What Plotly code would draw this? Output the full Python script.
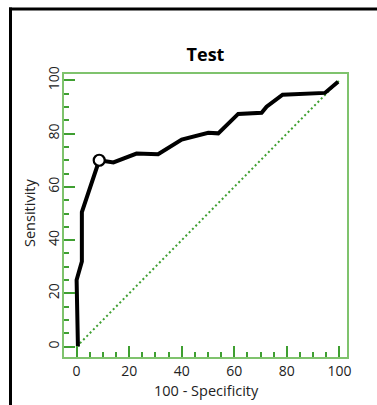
import plotly.graph_objects as go

# ROC curve data (100 - Specificity, Sensitivity)
fpr = [0.5, 0, 2, 2, 8.6, 14, 22.8, 31, 40, 50.1, 53.9, 61.5, 70.4, 72.3, 78.4, 94.5, 99.5]
tpr = [0, 25, 32, 50.5, 70, 69.2, 72.5, 72.3, 77.8, 80.3, 80.1, 87.4, 87.8, 90.1, 94.6, 95.3, 99.5]
cut_x = [8.6]
cut_y = [70]
diag = [0, 100]
tick_vals = [0, 20, 40, 60, 80, 100]
x_title = "100 - Specificity"
y_title = "Sensitivity"
chart_title = "Test"

FONT = "Open Sans"
GREEN = "#3f9f31"
LIGHT = "#7fc36d"

W, H = 377, 405
L, R, T, B = 64, 30, 74, 48
PW, PH = W - L - R, H - T - B

fig = go.Figure()
fig.add_trace(go.Scatter(x=diag, y=diag, mode="lines",
                         line=dict(color=GREEN, width=2, dash="2px,2.7px"),
                         hoverinfo="skip", showlegend=False))
fig.add_trace(go.Scatter(x=fpr, y=tpr, mode="lines",
                         line=dict(color="black", width=4),
                         showlegend=False))
fig.add_trace(go.Scatter(x=cut_x, y=cut_y, mode="markers",
                         marker=dict(size=11, color="white",
                                     line=dict(color="black", width=2.2)),
                         showlegend=False))

axis_common = dict(
    tickvals=tick_vals, ticks="inside", ticklen=11, tickwidth=2, tickcolor=GREEN,
    minor=dict(dtick=5, ticks="inside", ticklen=5, tickwidth=2, tickcolor=GREEN),
    showline=True, linecolor=LIGHT, linewidth=1.5, mirror=True,
    showgrid=False, zeroline=False,
    tickfont=dict(family=FONT, size=14, color="#222"),
)

fig.update_layout(
    width=W, height=H,
    margin=dict(l=L, r=R, t=T, b=B),
    paper_bgcolor="white", plot_bgcolor="white",
    title=dict(text="<b>" + chart_title + "</b>", x=0.5, xref="paper", xanchor="center",
               y=1 - 55 / H, yanchor="middle", yref="container",
               font=dict(family=FONT, size=18, color="black")),
    xaxis=dict(range=[-4.8, 102.9], **axis_common),
    yaxis=dict(range=[-3.9, 102.4], tickangle=-90, ticklabelstandoff=-2,
               **axis_common),
)

fig.add_annotation(text=x_title, xref="paper", yref="paper",
                   x=(206.7 - L) / PW, y=(PH + T - 390) / PH,
                   xanchor="center", yanchor="middle", showarrow=False,
                   font=dict(family=FONT, size=14.5, color="#222"))
fig.add_annotation(text=y_title, xref="paper", yref="paper", textangle=-90,
                   x=(29 - L) / PW, y=(PH + T - 213) / PH,
                   xanchor="center", yanchor="middle", showarrow=False,
                   font=dict(family=FONT, size=14.5, color="#222"))

# outer black frame: only left and top edges lie inside the window
fx0 = (10.5 - L) / PW
fx1 = (W - L) / PW
fy_top = (PH + T - 9) / PH
fy_bot = -B / PH
fig.add_shape(type="line", xref="paper", yref="paper",
              x0=fx0, x1=fx0, y0=fy_bot, y1=fy_top + 1.5 / PH,
              line=dict(color="black", width=3), layer="above")
fig.add_shape(type="line", xref="paper", yref="paper",
              x0=fx0 - 1.5 / PW, x1=fx1, y0=fy_top, y1=fy_top,
              line=dict(color="black", width=3), layer="above")

fig.write_html("out.html",
               config={"displayModeBar": False},
               post_script="document.documentElement.style.overflow='hidden';"
                           "document.body.style.margin='0';"
                           "document.body.style.overflow='hidden';")
